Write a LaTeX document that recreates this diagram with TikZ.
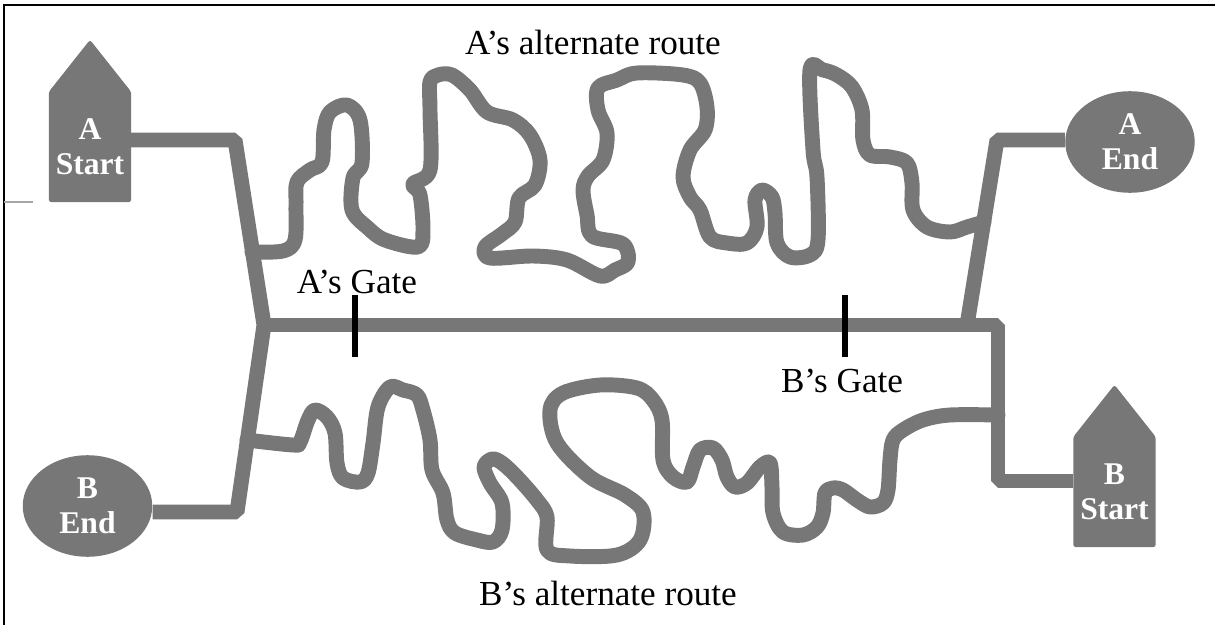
\documentclass[tikz,border=0pt]{standalone}
\usepackage{fontspec}
\setmainfont{Liberation Serif}
\usetikzlibrary{shapes.geometric,calc,backgrounds}
\definecolor{roadgray}{RGB}{119,119,119}
\tikzset{
  road/.style={draw=roadgray, line width=8.5pt, line join=bevel},
  wiggle/.style={draw=roadgray, line width=8.5pt, line join=round, line cap=round},
  gatemark/.style={draw=black, line width=3.4pt},
  housebox/.style={minimum width=46.5pt, minimum height=62.4pt, inner sep=0pt, text=white, font=\bfseries\fontsize{18}{20}\selectfont, align=center},
  housefill/.style={fill=roadgray, rounded corners=1.5pt},
  endoval/.style={ellipse, fill=roadgray, minimum width=73.7pt, minimum height=57.8pt, inner sep=0pt, text=white, font=\bfseries\fontsize{18}{20}\selectfont, align=center},
  lbl/.style={font=\fontsize{20}{24}\selectfont, inner sep=0pt}
}
\begin{document}
\begin{tikzpicture}[x=0.02cm,y=-0.02cm]
\useasboundingbox (0,0) rectangle (1215,625);
% frame
\draw[line width=1.3pt] (4,625) -- (4,5) -- (1215,5);
\draw[gray!70, line width=0.6pt] (4,202) -- (33,202);

% nodes
\node[housebox] (astart) at (90,147) {A\\Start};
\node[housebox] (bstart) at (1114.5,492) {B\\Start};
\begin{scope}[on background layer]
\fill[housefill] (astart.south west) -- (astart.north west) -- ($(astart.north)+(0,-52)$) -- (astart.north east) -- (astart.south east) -- cycle;
\fill[housefill] (bstart.south west) -- (bstart.north west) -- ($(bstart.north)+(0,-52)$) -- (bstart.north east) -- (bstart.south east) -- cycle;
\end{scope}
\node[endoval] (aend) at (1130,142) {A\\End};
\node[endoval] (bend) at (87.5,506) {B\\End};

% junction coordinates
\coordinate (ac1) at (235,140);
\coordinate (jl) at (264,325);
\coordinate (bc1) at (237,512);
\coordinate (jr) at (967,325);
\coordinate (ac2) at (997,140);
\coordinate (bc2) at (998,325);
\coordinate (bc3) at (998,481);
\coordinate (aalt) at (252,252);
\coordinate (aaltend) at (984,222);
\coordinate (balt) at (247,440);
\coordinate (baltend) at (998,415);

% main roads
\draw[road] (astart.east |- ac1) -- (ac1) -- (jl) -- (bc1) -- (bend.east |- bc1);
\draw[road] (jl) -- (bc2) -- (bc3) -- (bstart.west |- bc3);
\draw[road] (jr) -- (ac2) -- (aend.west |- ac2);

% A's alternate route
\draw[wiggle] plot[smooth, tension=0.55] coordinates {
(aalt) (283,251) (295,240) (296,205) (297,182) (310,170) (322,162) (324,130) (330,112) (347,105) (360,120) (362,163) (353,178) (352,210) (368,228) (385,240) (418,247) (423,230) (420,195) (413,184) (430,170) (430,110) (430,82) (438,75) (452,75) (470,90) (487,112) (513,120) (530,135) (540,160) (535,185) (519,198) (515,222) (502,234) (485,247) (490,258) (533,256) (567,260) (600,276) (615,270) (628,262) (623,244) (592,236) (587,215) (583,190) (588,176) (603,160) (607,133) (598,110) (598,88) (617,80) (637,73) (683,75) (700,83) (707,107) (705,130) (690,150) (683,177) (690,197) (700,210) (710,237) (727,243) (747,243) (757,227) (755,200) (762,190) (772,197) (775,213) (777,243) (790,257) (810,255) (818,240) (817,177) (813,150) (810,70) (823,70) (837,75) (852,87) (862,110) (863,140) (870,155) (890,157) (907,163) (912,183) (913,210) (927,227) (950,232) (967,227) (aaltend)};

% B's alternate route
\draw[wiggle] plot[smooth, tension=0.55] coordinates {
(balt) (293,445) (300,442) (308,420) (315,410) (327,417) (335,433) (337,463) (343,478) (360,482) (368,473) (373,443) (378,407) (390,387) (403,390) (417,395) (423,410) (430,440) (432,470) (443,493) (447,520) (455,533) (477,540) (493,542) (502,530) (502,503) (490,483) (484,467) (492,459) (502,463) (517,477) (537,500) (547,517) (547,550) (570,556) (617,555) (640,540) (643,512) (625,495) (590,477) (557,443) (550,410) (563,393) (600,385) (637,388) (653,400) (662,420) (663,460) (673,477) (687,482) (693,467) (700,450) (713,448) (722,460) (727,477) (735,487) (747,483) (760,467) (770,463) (772,487) (773,513) (783,532) (803,535) (817,527) (823,513) (825,493) (833,488) (843,490) (857,500) (870,507) (883,503) (888,490) (890,460) (893,440) (903,430) (923,420) (950,415) (baltend)};

% gates
\draw[gatemark] (355,295) -- (355,357);
\draw[gatemark] (845,295) -- (845,357);

% labels
\node[lbl] (lagate) at (357,282) {A’s Gate};
\node[lbl] (lbgate) at (842,381) {B’s Gate};
\node[lbl] (laalt) at (593,42) {A’s alternate route};
\node[lbl] (lbalt) at (608,593) {B’s alternate route};
\end{tikzpicture}
\end{document}
